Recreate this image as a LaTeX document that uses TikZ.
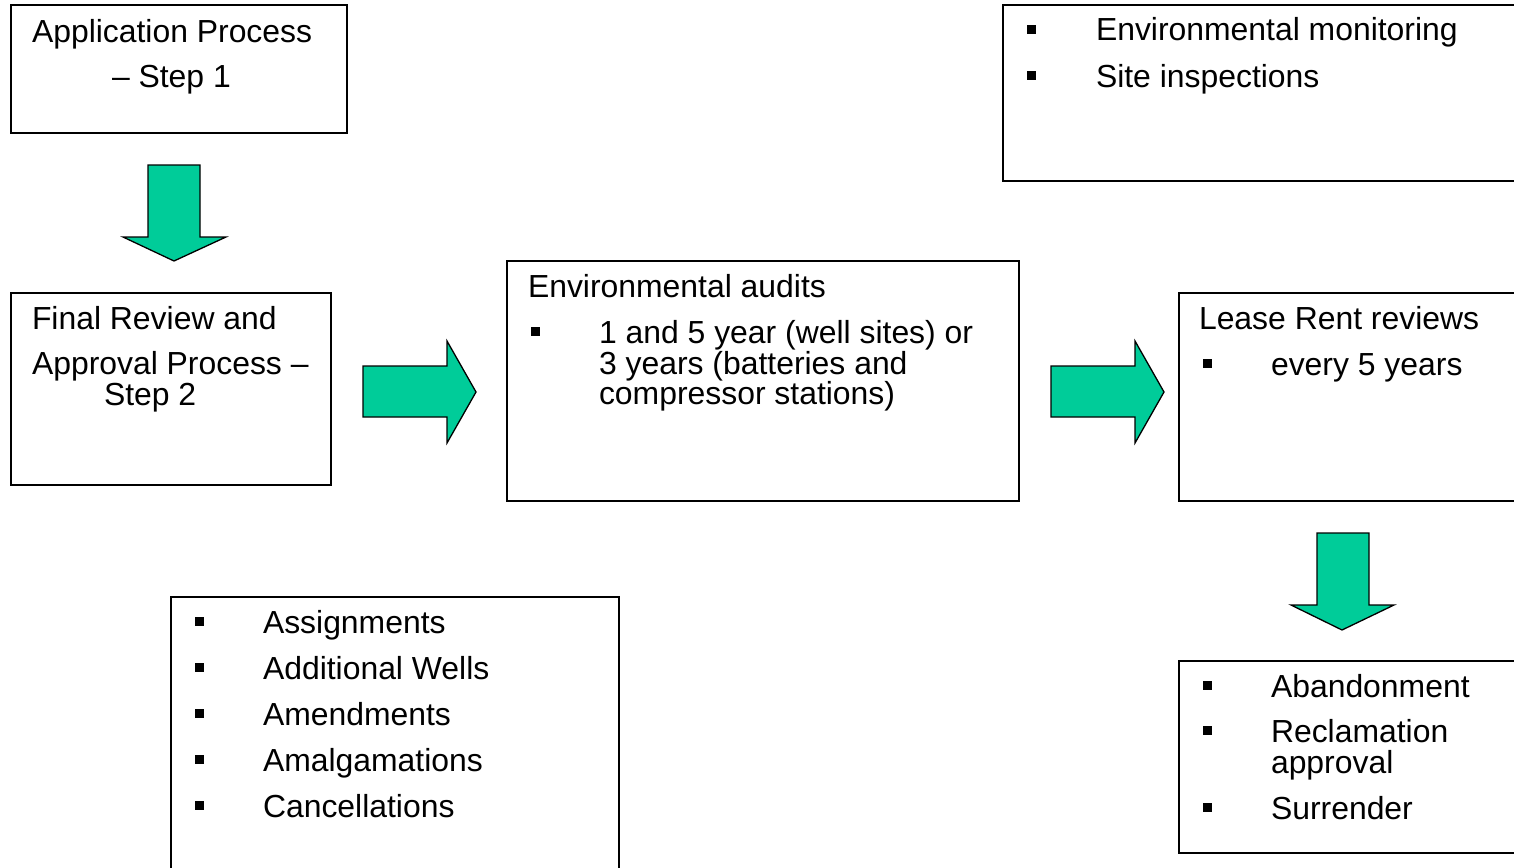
\documentclass[tikz,border=0pt]{standalone}
\usepackage{fontspec}
\setmainfont{Liberation Sans}
\begin{document}
\begin{tikzpicture}[x=1pt,y=-1pt,
  boxst/.style={draw=black, line width=1.4pt, fill=white, inner sep=0pt, outer sep=0pt, anchor=north west},
  txt/.style={anchor=base west, inner sep=0pt, outer sep=0pt, font=\fontsize{31.9}{31.9}\selectfont},
  blk/.style={fill=black, inner sep=0pt, outer sep=0pt, minimum size=9pt, anchor=south west},
  barrow/.style={draw=black, line width=1.3pt, fill=arrowgreen, line join=miter}]
\definecolor{arrowgreen}{HTML}{00CC99}
\useasboundingbox (0,0) rectangle (1514,867);
\clip (0,0) rectangle (1514,867);

% boxes
\node[boxst, minimum width=336pt, minimum height=128pt] (app) at (11,5) {};
\node[boxst, minimum width=320pt, minimum height=192pt] (fin) at (11,293) {};
\node[boxst, minimum width=512pt, minimum height=240pt] (aud) at (507,261) {};
\node[boxst, minimum width=360pt, minimum height=208pt] (lea) at (1179,293) {};
\node[boxst, minimum width=540pt, minimum height=176pt] (mon) at (1003,5) {};
\node[boxst, minimum width=360pt, minimum height=192pt] (aba) at (1179,661) {};
\node[boxst, minimum width=448pt, minimum height=300pt] (asg) at (171,597) {};

% block arrows
\draw[barrow] (148,165) -- (200,165) -- (200,237) -- (226,237) -- (174,261) -- (123,237) -- (148,237) -- cycle;
\draw[barrow] (363,366) -- (447,366) -- (447,341) -- (476,392) -- (447,443) -- (447,417) -- (363,417) -- cycle;
\draw[barrow] (1051,366) -- (1135,366) -- (1135,341) -- (1164,392) -- (1135,443) -- (1135,417) -- (1051,417) -- cycle;
\draw[barrow] (1317,533) -- (1369,533) -- (1369,605) -- (1394,605) -- (1342,630) -- (1291,605) -- (1317,605) -- cycle;

% box 1
\node[txt] (t1a) at (32,42) {Application Process};
\node[txt] (t1b) at (112,87) {– Step 1};

% box 2
\node[txt] (t2a) at (32,329) {Final Review and};
\node[txt] (t2b) at (32,374) {Approval Process –};
\node[txt] (t2c) at (104,405) {Step 2};

% box 3
\node[txt] (t3a) at (528,297) {Environmental audits};
\node[blk] (b3a) at (531,336) {};
\node[txt] (t3b) at (599,343) {1 and 5 year (well sites) or};
\node[txt] (t3c) at (599,374) {3 years (batteries and};
\node[txt] (t3d) at (599,404) {compressor stations)};

% box 4
\node[txt] (t4a) at (1199,329) {Lease Rent reviews};
\node[blk] (b4a) at (1203,368) {};
\node[txt] (t4b) at (1271,375) {every 5 years};

% box 5
\node[blk] (b5a) at (1027,34) {};
\node[txt] (t5a) at (1096,41) {Environmental monitoring};
\node[blk] (b5b) at (1027,80) {};
\node[txt] (t5b) at (1096,87) {Site inspections};

% box 6
\node[blk] (b6a) at (1203,690) {};
\node[txt] (t6a) at (1271,697) {Abandonment};
\node[blk] (b6b) at (1203,735) {};
\node[txt] (t6b) at (1271,742) {Reclamation};
\node[txt] (t6c) at (1271,773) {approval};
\node[blk] (b6c) at (1203,812) {};
\node[txt] (t6d) at (1271,819) {Surrender};

% box 7
\node[blk] (b7a) at (195,626) {};
\node[txt] (t7a) at (263,633) {Assignments};
\node[blk] (b7b) at (195,672) {};
\node[txt] (t7b) at (263,679) {Additional Wells};
\node[blk] (b7c) at (195,718) {};
\node[txt] (t7c) at (263,725) {Amendments};
\node[blk] (b7d) at (195,764) {};
\node[txt] (t7d) at (263,771) {Amalgamations};
\node[blk] (b7e) at (195,810) {};
\node[txt] (t7e) at (263,817) {Cancellations};
\end{tikzpicture}
\end{document}
